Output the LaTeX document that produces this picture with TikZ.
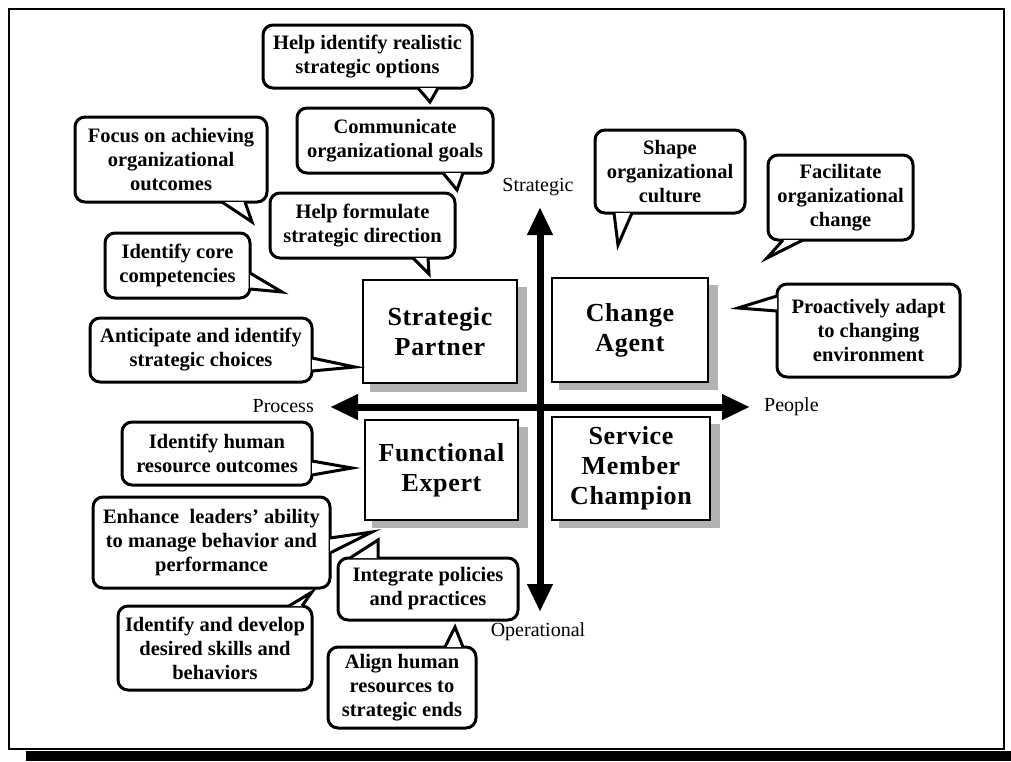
\documentclass[tikz,border=0pt]{standalone}
\usepackage{fontspec}
\setmainfont{Liberation Serif}
\newfontfamily\rolefont[LetterSpace=2.5]{Liberation Serif}
\usetikzlibrary{calc,arrows.meta}

% tail of a speech bubble: two base points just inside the border, and the tip
\newcommand\bubbletail[3]{%
  \fill[white] (#1) -- (#3) -- (#2) -- cycle;
  \draw[tailline] (#1) -- (#3) -- (#2);}

\begin{document}
\begin{tikzpicture}[x=1pt,y=-1pt,
  bubble/.style={draw, line width=3pt, fill=white, rounded corners=10pt,
    align=center, inner sep=0pt,
    font=\fontsize{20.5}{24}\selectfont\bfseries},
  tailline/.style={line width=3pt, line join=miter, miter limit=20},
  role/.style={draw, line width=2.6pt, fill=white, align=center, inner sep=0pt,
    font=\rolefont\fontsize{26}{30}\selectfont\bfseries},
  roleshadow/.style={fill=black!30},
  axis/.style={line width=7pt, {Triangle[length=28pt,width=24pt]}-{Triangle[length=28pt,width=24pt]}},
  axislabel/.style={font=\fontsize{20}{24}\selectfont, inner sep=0pt}]

\useasboundingbox (0,0) rectangle (1011,761);
\fill[white] (0,0) rectangle (1011,761);

% outer frame and its shadow band
\fill[black] (26,751) rectangle (1011,761);
\draw[line width=2.2pt] (9,9) rectangle (1004,749);

% the four roles, with their drop shadows
\fill[roleshadow] (370,287) rectangle (527,392);
\node[role, minimum width=154pt, minimum height=103pt] (sp) at (440,331.5) {Strategic\\Partner};
\fill[roleshadow] (559,285) rectangle (718,390);
\node[role, minimum width=156pt, minimum height=104pt] (ca) at (630,330) {Change\\Agent};
\fill[roleshadow] (372,427) rectangle (528,528);
\node[role, minimum width=153pt, minimum height=100pt] (fe) at (441.5,470) {Functional\\Expert};
\fill[roleshadow] (559,424) rectangle (720,528);
\node[role, minimum width=158pt, minimum height=103pt] (smc) at (631,468.5) {Service\\Member\\Champion};

% axes
\coordinate (strat) at (540,207);
\coordinate (oper)  at (540,612);
\coordinate (proc)  at (330,407);
\coordinate (peop)  at (750,407);
\draw[axis] (oper) -- (strat);
\draw[axis] (proc) -- (peop);
\node[axislabel, anchor=south] (lstrat) at (538,196) {Strategic};
\node[axislabel, anchor=north] (loper)  at (538,622) {Operational};
\node[axislabel, anchor=east]  (lproc)  at (314,406) {Process};
\node[axislabel, anchor=west]  (lpeop)  at (764,407) {People};

% speech bubbles
\node[bubble, minimum width=209pt, minimum height=63pt] (b1) at (367.5,56.5) {Help identify realistic\\strategic options};
\coordinate (t1) at (430,102);
\bubbletail{$(b1.south)+(50.5,-1.5)$}{$(b1.south)+(70.5,-1.5)$}{t1}

\node[bubble, minimum width=196pt, minimum height=65pt] (b2) at (395,140.5) {Communicate\\organizational goals};
\coordinate (t2) at (457,190);
\bubbletail{$(b2.south)+(48,-1.5)$}{$(b2.south)+(68,-1.5)$}{t2}

\node[bubble, minimum width=192pt, minimum height=85pt] (b3) at (171,159.5) {Focus on achieving\\organizational\\outcomes};
\coordinate (t3) at (252,222);
\bubbletail{$(b3.south)+(51,-1.5)$}{$(b3.south)+(74,-1.5)$}{t3}

\node[bubble, minimum width=185pt, minimum height=65pt] (b4) at (362.5,225.5) {Help formulate\\strategic direction};
\coordinate (t4) at (429,274);
\bubbletail{$(b4.south)+(50.5,-1.5)$}{$(b4.south)+(65.5,-1.5)$}{t4}

\node[bubble, minimum width=145pt, minimum height=65pt] (b5) at (177.5,265.5) {Identify core\\competencies};
\coordinate (t5) at (282,292);
\bubbletail{$(b5.east)+(-1.5,7.5)$}{$(b5.east)+(-1.5,23.5)$}{t5}

\node[bubble, minimum width=222pt, minimum height=64pt] (b6) at (201,350) {Anticipate and identify\\strategic choices};
\coordinate (t6) at (355,367);
\bubbletail{$(b6.east)+(-1.5,8)$}{$(b6.east)+(-1.5,21)$}{t6}

\node[bubble, minimum width=190pt, minimum height=63pt] (b7) at (217,453.5) {Identify human\\resource outcomes};
\coordinate (t7) at (352,468);
\bubbletail{$(b7.east)+(-1.5,7.5)$}{$(b7.east)+(-1.5,21.5)$}{t7}

\node[bubble, minimum width=237pt, minimum height=91pt] (b8) at (211.5,542.5) {Enhance\ \ leaders’ ability\\to manage behavior and\\performance};
\coordinate (t8) at (372,532);
\bubbletail{$(b8.east)+(-1.5,-4.5)$}{$(b8.east)+(-1.5,10.5)$}{t8}

\node[bubble, minimum width=180pt, minimum height=62pt] (b9) at (428,589) {Integrate policies\\and practices};
\coordinate (t9) at (378,540);
\bubbletail{$(b9.north)+(-78,1.5)$}{$(b9.north)+(-50,1.5)$}{t9}

\node[bubble, minimum width=194pt, minimum height=84pt] (b10) at (215,648) {Identify and develop\\desired skills and\\behaviors};
\coordinate (t10) at (312,592);
\bubbletail{$(b10.north)+(74,1.5)$}{$(b10.north)+(87,1.5)$}{t10}

\node[bubble, minimum width=148pt, minimum height=81pt] (b11) at (402,687.5) {Align human\\resources to\\strategic ends};
\coordinate (t11) at (455,627);
\bubbletail{$(b11.north)+(43,1.5)$}{$(b11.north)+(61,1.5)$}{t11}

\node[bubble, minimum width=150pt, minimum height=83pt] (b12) at (670,171.5) {Shape\\organizational\\culture};
\coordinate (t12) at (618,245);
\bubbletail{$(b12.south)+(-56,-1.5)$}{$(b12.south)+(-38,-1.5)$}{t12}

\node[bubble, minimum width=145pt, minimum height=85pt] (b13) at (840.5,197.5) {Facilitate\\organizational\\change};
\coordinate (t13) at (767,258);
\bubbletail{$(b13.south)+(-57.5,-1.5)$}{$(b13.south)+(-37.5,-1.5)$}{t13}

\node[bubble, minimum width=183pt, minimum height=93pt] (b14) at (868.5,330.5) {Proactively adapt\\to changing\\environment};
\coordinate (t14) at (738,308);
\bubbletail{$(b14.west)+(1.5,-34.5)$}{$(b14.west)+(1.5,-19.5)$}{t14}

\end{tikzpicture}
\end{document}
